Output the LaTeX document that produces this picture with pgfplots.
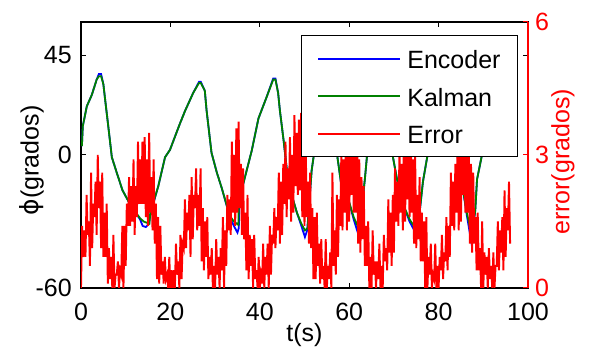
\documentclass[border=0pt]{standalone}
\usepackage{pgfplots}
\pgfplotsset{compat=1.18}
\usepackage{fontspec}
\setmainfont{Liberation Sans}
\newfontfamily\dejavu{DejaVu Sans}
\definecolor{mgreen}{rgb}{0,0.5,0}
\begin{document}
\begin{tikzpicture}[font=\fontsize{25}{30}\selectfont]
\path[use as bounding box] (-81pt,-62pt) rectangle (509pt,288pt);
\begin{axis}[
  at={(0pt,0pt)}, anchor=south west,
  scale only axis, width=447pt, height=266pt,
  xmin=0, xmax=100, ymin=-60, ymax=60,
  xtick={0,20,40,60,80,100}, xticklabels={0,20,40,60,80,100},
  ytick={-60,0,45}, yticklabels={-60,0,45},
  tick align=inside, major tick length=5pt,
  axis line style={line width=1.4pt},
  every tick/.style={black, line width=1pt},
  tick label style={font=\fontsize{25}{30}\selectfont},
  xticklabel style={anchor=north, inner sep=0pt, yshift=-15pt},
  yticklabel style={anchor=east, inner sep=0pt, xshift=-9pt},
  xlabel={t(s)}, ylabel={{\dejavu ϕ}(grados)},
  xlabel style={at={(axis description cs:0.5,-0.178)}, anchor=center},
  ylabel style={at={(axis description cs:-0.11,0.48)}, anchor=center},
]
\addplot[blue, line width=1.8pt] coordinates {
(0.2,4)(0.4,13)(1.3,22)(2.4,27)(3.5,34)(4.0,36.5)(4.5,36.5)(5.0,32)(5.4,25)(6.1,13)(6.9,-1)(8.0,-8)(9.3,-16)(11.2,-23)
(13.2,-29)(13.8,-32)(14.5,-32.5)(15.2,-31)(15.6,-26)(17.3,-14)(18.8,-1)(19.9,2.3)(22.1,14)(23.3,20)(25.1,28)(26.4,33)(26.8,33)
(27.7,29)(28.1,20)(29.2,1)(30.4,-8)(31.5,-15)(33.3,-28)(34.2,-32)(35.0,-35)(35.3,-33)(35.4,-24)(36.3,-13)(38.2,2)(39.7,16.5)
(41.5,26)(43.0,34.5)(43.5,34.5)(44.1,28)(44.5,20)(45.3,7)(46.4,-13)(48.3,-26)(49.3,-32)(50.1,-37)(50.6,-34)(50.9,-26)(51.6,-7)
(52.3,3)(54.7,35)(55.2,34)(56,15)(57.3,0)(58.2,-13)(59.8,-20)(61,-29)(62,-35.5)(62.5,-32)(62.8,-24)(63.5,-11)(64,0)(67.1,35)
(67.6,33)(69.7,0)(70.7,-11)(72.1,-22.5)(73.5,-30)(75.1,-36)(75.6,-33)(75.8,-25)(76.5,-12)(77.7,2)(81.6,35)(82.1,33)(84.2,0)
(85.4,-15)(86.3,-27)(87.3,-39)(87.7,-33)(88.2,-25)(88.6,-11)(89.7,0)(93.5,33)(94,33)(96,12)};
\addplot[mgreen, line width=1.8pt] coordinates {
(0.2,4)(0.4,13)(1.3,22)(2.4,27)(3.5,34)(4.0,35.5)(4.5,35.5)(5.0,32)(5.4,25)(6.1,13)(6.9,-1)(8.0,-8)(9.3,-16)(11.2,-23)
(13.2,-28.5)(14.0,-30)(15.3,-31)(15.5,-26)(17.3,-14)(18.8,-1)(19.9,2.3)(22.1,14)(23.3,20)(25.1,28)(26.4,32.5)(26.8,32.5)
(27.7,29)(28.1,20)(29.2,1)(30.4,-8)(31.5,-15)(33.3,-27.5)(34.2,-30)(35.2,-31.5)(35.3,-23)(36.3,-13)(38.2,2)(39.7,16.5)
(41.5,26)(43.0,34)(43.5,34)(44.1,28)(44.5,20)(45.3,7)(46.4,-13)(48.3,-26)(49.3,-31)(50.1,-34)(50.7,-33)(50.9,-26)(51.6,-7)
(52.3,3)(54.7,35)(55.2,34)(56,15)(57.3,0)(58.2,-13)(59.8,-20)(61,-28)(62,-32.5)(62.6,-31)(62.8,-24)(63.5,-11)(64,0)(67.1,35)
(67.6,33)(69.7,0)(70.7,-11)(72.1,-22.5)(73.5,-29)(75.1,-34)(75.6,-32)(75.8,-25)(76.5,-12)(77.7,2)(81.6,35)(82.1,33)(84.2,0)
(85.4,-15)(86.3,-26)(87.3,-35)(87.7,-32)(88.2,-25)(88.6,-11)(89.7,0)(93.5,33)(94,33)(96,12)};
\end{axis}
\begin{axis}[
  at={(0pt,0pt)}, anchor=south west,
  scale only axis, width=447pt, height=266pt,
  xmin=0, xmax=100, ymin=0, ymax=6,
  axis x line=none, axis y line*=right,
  ytick={0,3,6}, yticklabels={0,3,6},
  tick align=inside, major tick length=5pt,
  y axis line style={red, line width=1.4pt},
  every tick/.style={red, line width=1pt},
  yticklabel style={red, anchor=west, inner sep=0pt, xshift=7pt, font=\fontsize{25}{30}\selectfont},
  ylabel={error(grados)},
  ylabel style={red, at={(axis description cs:1.078,0.474)}, anchor=center},
  legend cell align=left,
  legend image code/.code={\draw[#1, line width=1.8pt] (0pt,0pt) -- (82pt,0pt);},
  legend style={at={(rel axis cs:0.978,0.951)}, anchor=north east, draw=black, line width=1.3pt, fill=white,
    inner xsep=16pt, inner ysep=12pt, row sep=15.5pt, column sep=5pt,
    nodes={inner sep=1pt, text height=20pt, text depth=0pt, font=\fontsize{25}{30}\selectfont}},
]
\addlegendimage{blue}
\addlegendentry{Encoder}
\addlegendimage{mgreen}
\addlegendentry{Kalman}
\addplot[red, line width=1.9pt] coordinates {
(0,0)(0.25,1.4)(0.5,0.7)(0.75,1.3)(1,0.7)(1.25,2.1)(1.5,1.2)(1.75,1.5)(2,0.5)(2.25,2.6)(2.5,0.9)(2.75,1.9)
(3,1.6)(3.25,2.4)(3.5,1.2)(3.75,3.0)(4,1.8)(4.25,2.4)(4.5,0.9)(4.75,2.6)(5,0.7)(5.25,1.7)(5.5,0.7)(5.75,1.9)
(6,0.1)(6.25,0.9)(6.5,0.2)(6.75,0.7)(7,0.0)(7.25,1.2)(7.5,0.0)(7.75,0.3)(8,0.3)(8.25,0.6)(8.5,0.0)(8.75,0.4)
(9,0.3)(9.25,1.4)(9.5,0.0)(9.75,1.4)(10,0.5)(10.25,1.9)(10.5,1.4)(10.75,2.5)(11,1.4)(11.25,2.3)(11.5,1.5)(11.75,2.9)
(12,1.2)(12.25,2.3)(12.5,1.6)(12.75,3.3)(13,1.9)(13.25,2.9)(13.5,1.9)(13.75,3.3)(14,1.9)(14.25,3.4)(14.5,1.6)(14.75,2.9)
(15,1.4)(15.25,3.5)(15.5,1.7)(15.75,2.5)(16,1.3)(16.25,2.9)(16.5,1.0)(16.75,1.9)(17,0.2)(17.25,1.6)(17.5,0.1)(17.75,1.4)
(18,0.3)(18.25,0.6)(18.5,0.1)(18.75,0.7)(19,0.2)(19.25,0.3)(19.5,0.0)(19.75,0.7)(20,0.0)(20.25,0.4)(20.5,0.0)(20.75,0.4)
(21,0.0)(21.25,1.0)(21.5,0.3)(21.75,0.6)(22,0.0)(22.25,1.2)(22.5,0.2)(22.75,1.0)(23,0.9)(23.25,2.0)(23.5,0.9)(23.75,1.7)
(24,1.3)(24.25,2.1)(24.5,0.7)(24.75,2.5)(25,1.1)(25.25,2.1)(25.5,1.8)(25.75,2.7)(26,1.3)(26.25,2.1)(26.5,1.4)(26.75,2.7)
(27,0.6)(27.25,1.8)(27.5,0.4)(27.75,1.5)(28,0.7)(28.25,1.6)(28.5,0.2)(28.75,0.7)(29,0.3)(29.25,0.9)(29.5,0.0)(29.75,0.5)
(30,0.0)(30.25,1.1)(30.5,0.3)(30.75,0.7)(31,0.0)(31.25,0.9)(31.5,0.4)(31.75,1.6)(32,0.0)(32.25,1.3)(32.5,0.5)(32.75,2.1)
(33,1.3)(33.25,2.0)(33.5,1.2)(33.75,3.3)(34,1.7)(34.25,3.0)(34.5,1.4)(34.75,3.6)(35,1.7)(35.25,3.75)(35.5,1.8)(35.75,2.8)
(36,1.2)(36.25,2.7)(36.5,1.1)(36.75,1.7)(37,0.4)(37.25,2.1)(37.5,0.2)(37.75,1.2)(38,0.5)(38.25,1.1)(38.5,0.0)(38.75,1.2)
(39,0.2)(39.25,0.4)(39.5,0.0)(39.75,0.7)(40,0.0)(40.25,0.3)(40.5,0.1)(40.75,1.0)(41,0.0)(41.25,0.7)(41.5,0.3)(41.75,1.0)
(42,0.0)(42.25,1.4)(42.5,0.3)(42.75,1.2)(43,1.0)(43.25,1.8)(43.5,0.9)(43.75,1.6)(44,1.3)(44.25,2.6)(44.5,1.0)(44.75,2.4)
(45,1.2)(45.25,2.8)(45.5,1.9)(45.75,3.3)(46,1.6)(46.25,2.7)(46.5,2.0)(46.75,3.4)(47,1.5)(47.25,3.0)(47.5,1.7)(47.75,3.9)
(48,2.3)(48.25,3.5)(48.5,2.1)(48.75,3.8)(49,2.2)(49.25,3.95)(49.5,1.6)(49.75,3.6)(50,1.4)(50.25,3.4)(50.5,1.6)(50.75,2.4)
(51,1.0)(51.25,2.6)(51.5,0.9)(51.75,1.8)(52,0.2)(52.25,1.6)(52.5,0.2)(52.75,1.7)(53,0.5)(53.25,1.0)(53.5,0.1)(53.75,1.1)
(54,0.2)(54.25,0.5)(54.5,0.0)(54.75,1.1)(55,0.0)(55.25,0.5)(55.5,0.2)(55.75,0.8)(56,0.0)(56.25,2.6)(56.5,0.5)(56.75,1.3)
(57,0.3)(57.25,2.1)(57.5,0.7)(57.75,2.0)(58,1.4)(58.25,3.1)(58.5,1.3)(58.75,2.9)(59,1.7)(59.25,3.2)(59.5,1.3)(59.75,3.8)
(60,1.5)(60.25,3.3)(60.5,2.1)(60.75,3.8)(61,1.7)(61.25,3.3)(61.5,1.7)(61.75,3.7)(62,1.0)(62.25,2.9)(62.5,0.8)(62.75,2.5)
(63,1.1)(63.25,2.3)(63.5,0.5)(63.75,1.4)(64,0.5)(64.25,1.5)(64.5,0.0)(64.75,0.7)(65,0.0)(65.25,1.3)(65.5,0.3)(65.75,0.6)
(66,0.0)(66.25,0.6)(66.5,0.2)(66.75,1.0)(67,0.0)(67.25,0.5)(67.5,0.0)(67.75,1.2)(68,0.6)(68.25,0.9)(68.5,0.4)(68.75,2.0)
(69,0.8)(69.25,1.7)(69.5,0.5)(69.75,2.1)(70,0.8)(70.25,2.7)(70.5,1.5)(70.75,2.4)(71,1.4)(71.25,3.1)(71.5,1.7)(71.75,2.8)
(72,1.3)(72.25,3.8)(72.5,1.5)(72.75,3.4)(73,2.0)(73.25,3.6)(73.5,1.6)(73.75,3.7)(74,1.7)(74.25,2.9)(74.5,1.0)(74.75,3.0)
(75,0.9)(75.25,2.1)(75.5,1.1)(75.75,2.5)(76,0.6)(76.25,1.7)(76.5,0.6)(76.75,1.5)(77,0.0)(77.25,1.6)(77.5,0.0)(77.75,0.7)
(78,0.3)(78.25,1.0)(78.5,0.0)(78.75,0.3)(79,0.2)(79.25,1.0)(79.5,0.0)(79.75,0.5)(80,0.0)(80.25,0.7)(80.5,0.4)(80.75,1.2)
(81,0.2)(81.25,0.8)(81.5,0.6)(81.75,1.6)(82,0.4)(82.25,1.4)(82.5,0.7)(82.75,2.6)(83,1.4)(83.25,2.4)(83.5,1.3)(83.75,2.8)
(84,1.7)(84.25,3.4)(84.5,1.3)(84.75,3.0)(85,1.5)(85.25,3.5)(85.5,2.1)(85.75,3.1)(86,1.7)(86.25,3.9)(86.5,1.7)(86.75,3.1)
(87,1.0)(87.25,2.8)(87.5,0.8)(87.75,2.6)(88,1.0)(88.25,1.6)(88.5,0.4)(88.75,1.7)(89,0.4)(89.25,0.9)(89.5,0.0)(89.75,1.5)
(90,0.0)(90.25,0.8)(90.5,0.3)(90.75,0.7)(91,0.0)(91.25,0.9)(91.5,0.2)(91.75,0.5)(92,0.0)(92.25,0.8)(92.5,0.0)(92.75,0.5)
(93,0.5)(93.25,1.5)(93.5,0.4)(93.75,1.3)(94,0.8)(94.25,1.6)(94.5,0.4)(94.75,2.2)(95,0.7)(95.25,1.8)(95.5,1.3)(95.75,2.4)
(96,1.0)};
\addlegendentry{Error}
\end{axis}
\end{tikzpicture}
\end{document}
